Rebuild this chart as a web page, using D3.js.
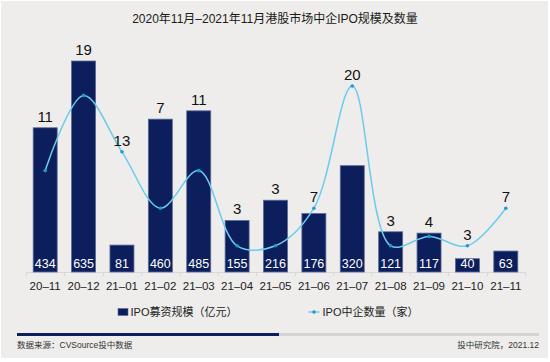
<!DOCTYPE html>
<html>
<head>
<meta charset="utf-8">
<script src="https://cdn.jsdelivr.net/npm/d3@7"></script>
<style>
  body { margin: 0; background: #fff; }
  svg { display: block; font-family: "Liberation Sans", "Noto Sans CJK SC", sans-serif; }
</style>
</head>
<body>
<svg width="550" height="362"></svg>
<script>
// 월별 데이터
var months = ["20–11", "20–12", "21–01", "21–02", "21–03", "21–04", "21–05",
              "21–06", "21–07", "21–08", "21–09", "21–10", "21–11"];
var amounts = [434, 635, 81, 460, 485, 155, 216, 176, 320, 121, 117, 40, 63];
var counts = [11, 19, 13, 7, 11, 3, 3, 7, 20, 3, 4, 3, 7];

var titleText = "2020年11月–2021年11月港股市场中企IPO规模及数量";
var legendBar = "IPO募资规模（亿元）";
var legendLine = "IPO中企数量（家）";
var sourceText = "数据来源：CVSource投中数据";
var creditText = "投中研究院，2021.12";

var navy = "#0c1e5b";
var lineColor = "#6ccbed";
var dotColor = "#1b9dd0";

var svg = d3.select("svg");

// 배경
svg.append("rect")
    .attr("x", 1).attr("y", 1)
    .attr("width", 547).attr("height", 357)
    .attr("fill", "#eeedeb");

svg.append("text")
    .attr("x", 275).attr("y", 23)
    .attr("text-anchor", "middle")
    .attr("font-size", 12)
    .attr("fill", "#1a1a1a")
    .text(titleText);

// 스케일
var x = d3.scaleBand()
    .domain(months)
    .range([26, 525])
    .paddingInner(0.375)
    .paddingOuter(0.1875);

var yBar = d3.scaleLinear().domain([0, 700]).range([272, 39.4]);
var yCount = d3.scaleLinear().domain([0, 20]).range([274, 86]);

var step = x.step();
var gap = (step - x.bandwidth()) / 2;

// x축
svg.append("line")
    .attr("x1", 26).attr("x2", 525)
    .attr("y1", 272.5).attr("y2", 272.5)
    .attr("stroke", "#d8d8d8");

svg.selectAll(".tick")
    .data(months.concat(["end"]))
    .enter()
    .append("line")
    .attr("class", "tick")
    .attr("x1", function(d, i) { return Math.round(26 + i * step) + 0.5; })
    .attr("x2", function(d, i) { return Math.round(26 + i * step) + 0.5; })
    .attr("y1", 272).attr("y2", 276)
    .attr("stroke", "#d8d8d8");

svg.selectAll(".xlab")
    .data(months)
    .enter()
    .append("text")
    .attr("class", "xlab")
    .attr("x", function(d) { return x(d) + x.bandwidth() / 2; })
    .attr("y", 290)
    .attr("text-anchor", "middle")
    .attr("font-size", 11.5)
    .attr("fill", "#222")
    .text(function(d) { return d; });

// 막대
svg.selectAll(".bar")
    .data(amounts)
    .enter()
    .append("rect")
    .attr("class", "bar")
    .attr("x", function(d, i) { return x(months[i]); })
    .attr("y", function(d) { return yBar(d); })
    .attr("width", x.bandwidth())
    .attr("height", function(d) { return yBar(0) - yBar(d); })
    .attr("fill", navy)
    .attr("stroke", "#5a6a98")
    .attr("stroke-width", 0.8);

svg.selectAll(".barlab")
    .data(amounts)
    .enter()
    .append("text")
    .attr("class", "barlab")
    .attr("x", function(d, i) { return x(months[i]) + x.bandwidth() / 2; })
    .attr("y", 268)
    .attr("text-anchor", "middle")
    .attr("font-size", 12.5)
    .attr("fill", "#fff")
    .text(function(d) { return d; });

// 꺾은선
var line = d3.line()
    .x(function(d, i) { return x(months[i]) + x.bandwidth() / 2; })
    .y(function(d) { return yCount(d); })
    .curve(d3.curveCatmullRom.alpha(0.5));

svg.append("path")
    .datum(counts)
    .attr("d", line)
    .attr("fill", "none")
    .attr("stroke", lineColor)
    .attr("stroke-width", 1.5);

svg.selectAll(".dot")
    .data(counts)
    .enter()
    .append("circle")
    .attr("class", "dot")
    .attr("cx", function(d, i) { return x(months[i]) + x.bandwidth() / 2; })
    .attr("cy", function(d) { return yCount(d); })
    .attr("r", 1.8)
    .attr("fill", dotColor);

svg.selectAll(".cntlab")
    .data(counts)
    .enter()
    .append("text")
    .attr("class", "cntlab")
    .attr("x", function(d, i) { return x(months[i]) + x.bandwidth() / 2; })
    .attr("y", function(d, i) {
        return Math.min(yBar(amounts[i]), yCount(d)) - 6;
    })
    .attr("text-anchor", "middle")
    .attr("font-size", 15)
    .attr("fill", "#111")
    .text(function(d) { return d; });

// 범례
var leg = svg.append("g");
leg.append("rect")
    .attr("x", 118).attr("y", 308.5)
    .attr("width", 10).attr("height", 7)
    .attr("fill", navy)
    .attr("stroke", "#5a6a98")
    .attr("stroke-width", 0.6);
leg.append("text")
    .attr("x", 130.5).attr("y", 316)
    .attr("font-size", 11)
    .attr("fill", "#222")
    .text(legendBar);

leg.append("line")
    .attr("x1", 308.5).attr("x2", 319.5)
    .attr("y1", 312).attr("y2", 312)
    .attr("stroke", lineColor)
    .attr("stroke-width", 1.5);
leg.append("circle")
    .attr("cx", 314).attr("cy", 312)
    .attr("r", 1.8)
    .attr("fill", dotColor);
leg.append("text")
    .attr("x", 322.5).attr("y", 316)
    .attr("font-size", 11)
    .attr("fill", "#222")
    .text(legendLine);

// 하단 진행바 + 출처
svg.append("rect")
    .attr("x", 17).attr("y", 333)
    .attr("width", 522).attr("height", 3)
    .attr("fill", "#d4d4d6");
svg.append("rect")
    .attr("x", 17).attr("y", 333)
    .attr("width", 262).attr("height", 3)
    .attr("fill", navy);

svg.append("text")
    .attr("x", 17).attr("y", 348)
    .attr("font-size", 8.5)
    .attr("fill", "#333")
    .text(sourceText);

svg.append("text")
    .attr("x", 539).attr("y", 348)
    .attr("text-anchor", "end")
    .attr("font-size", 8.5)
    .attr("fill", "#333")
    .text(creditText);
</script>
</body>
</html>
